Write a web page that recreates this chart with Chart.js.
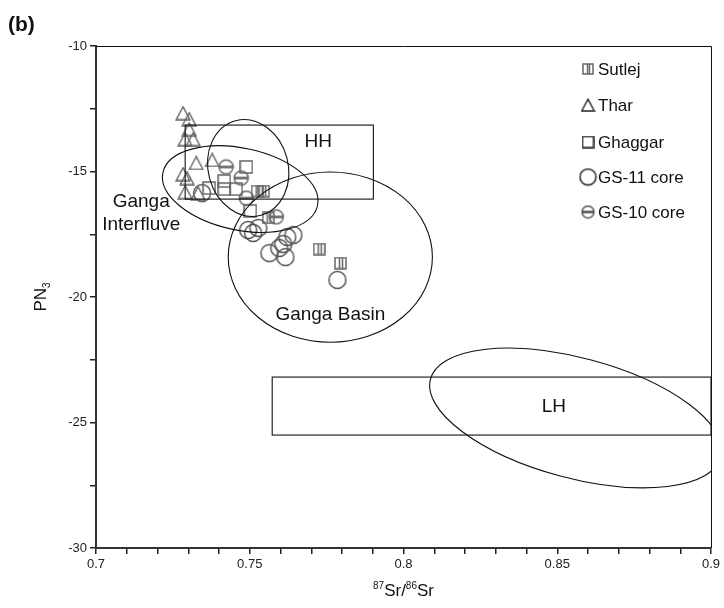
<!DOCTYPE html>
<html lang="en">
<head>
<meta charset="UTF-8" />
<title>PN3 vs 87Sr/86Sr</title>
<script src="https://cdn.jsdelivr.net/npm/chart.js"></script>
<style>
  html, body { margin: 0; padding: 0; background: #fff; }
  #wrap { position: relative; width: 724px; height: 608px; }
</style>
</head>
<body>
<div id="wrap"><canvas id="chart" width="724" height="608"></canvas></div>
<script>
  // values
  const sutlejX = [0.7524, 0.7545, 0.7560, 0.7726, 0.7795];
  const sutlejY = [-15.78, -15.78, -16.85, -18.09, -18.65];

  const tharX = [0.7283, 0.7303, 0.7303, 0.7290, 0.7316, 0.7326, 0.7378, 0.7283, 0.7296, 0.7290, 0.7332];
  const tharY = [-12.67, -12.91, -13.31, -13.71, -13.71, -14.66, -14.54, -15.10, -15.26, -15.82, -15.86];

  const ghaggarX = [0.7489, 0.7417, 0.7417, 0.7368, 0.7456, 0.7502];
  const ghaggarY = [-14.82, -15.38, -15.70, -15.66, -15.70, -16.57];

  const gs11X = [0.7345, 0.7495, 0.7511, 0.7528, 0.7622, 0.7642, 0.7609, 0.7596, 0.7564, 0.7616, 0.7785];
  const gs11Y = [-15.86, -17.33, -17.45, -17.25, -17.61, -17.53, -17.89, -18.05, -18.25, -18.41, -19.32];

  const gs10X = [0.7423, 0.7472, 0.7489, 0.7586];
  const gs10Y = [-14.82, -15.26, -16.06, -16.81];

  const seriesNames = ['Sutlej', 'Thar', 'Ghaggar', 'GS-11 core', 'GS-10 core'];
  const xTickLabels = [0.7, 0.75, 0.8, 0.85, 0.9];
  const yTickLabels = [-30, -25, -20, -15, -10];

  // fields drawn on the diagram (data coords)
  const rects = [
    { x0: 0.7290, x1: 0.7902, y0: -13.15, y1: -16.10 },   // HH
    { x0: 0.7573, x1: 0.9000, y0: -23.19, y1: -25.50 }    // LH
  ];
  const ellipses = [
    { cx: 0.7469, cy: -15.70, rx: 0.0257, ry: 1.63, rot: 12 },   // Ganga Interfluve
    { cx: 0.7495, cy: -14.86, rx: 0.0130, ry: 1.95, rot: -15 },
    { cx: 0.7762, cy: -18.41, rx: 0.0332, ry: 3.39, rot: 0 },    // Ganga Basin
    { cx: 0.8560, cy: -24.82, rx: 0.0489, ry: 2.39, rot: 15 }    // LH
  ];
  const labels = [
    { text: 'Ganga', x: 0.7147, y: -16.22 },
    { text: 'Interfluve', x: 0.7147, y: -17.13 },
    { text: 'Ganga Basin', x: 0.7762, y: -20.72 },
    { text: 'HH', x: 0.7723, y: -13.82 },
    { text: 'LH', x: 0.8489, y: -24.38 }
  ];

  const FONT = '"Liberation Sans", Arial, sans-serif';
  const GREY = '#666';

  function mark(w, h, draw) {
    const c = document.createElement('canvas');
    c.width = w; c.height = h;
    const g = c.getContext('2d');
    draw(g, w, h);
    return c;
  }
  function sutlejMark(s) {
    return mark(s + 2, s + 2, (g, w, h) => {
      g.strokeStyle = GREY; g.lineWidth = 1.5;
      g.strokeRect(1, 1, w - 2, h - 2);
      g.beginPath();
      g.moveTo(Math.round(w * 0.4) + 0.5, 1); g.lineTo(Math.round(w * 0.4) + 0.5, h - 1);
      g.moveTo(Math.round(w * 0.6) + 0.5, 1); g.lineTo(Math.round(w * 0.6) + 0.5, h - 1);
      g.stroke();
    });
  }
  function triMark(s, col) {
    return mark(s + 3, s + 2, (g, w, h) => {
      g.strokeStyle = col; g.lineWidth = 1.4;
      g.beginPath();
      g.moveTo(w / 2, 1.2); g.lineTo(w - 1.2, h - 1); g.lineTo(1.2, h - 1); g.closePath();
      g.stroke();
    });
  }
  function squareMark(s, col) {
    return mark(s + 2, s + 2, (g, w, h) => {
      g.strokeStyle = col; g.lineWidth = 1.5;
      g.strokeRect(1, 1, w - 2, h - 2);
    });
  }
  function circleMark(r, col) {
    return mark(2 * r + 3, 2 * r + 3, (g, w, h) => {
      g.strokeStyle = col; g.lineWidth = 1.5;
      g.beginPath(); g.arc(w / 2, h / 2, r, 0, Math.PI * 2); g.stroke();
    });
  }
  function bandCircleMark(r, col) {
    return mark(2 * r + 3, 2 * r + 3, (g, w, h) => {
      g.strokeStyle = col; g.lineWidth = 1.5;
      g.beginPath(); g.arc(w / 2, h / 2, r, 0, Math.PI * 2); g.stroke();
      g.fillStyle = col;
      g.fillRect(w / 2 - r, h / 2 - 1.3, 2 * r, 2.6);
    });
  }

  const styles = [sutlejMark(11), triMark(13, GREY), squareMark(12, GREY), circleMark(8.5, '#555'), bandCircleMark(7, GREY)];
  const legendStyles = [sutlejMark(10), triMark(12, '#222'), squareMark(11, '#222'), circleMark(8, '#222'), bandCircleMark(6, '#555')];

  const pairs = (xs, ys) => xs.map((x, i) => ({ x: x, y: ys[i] }));
  const seriesData = [pairs(sutlejX, sutlejY), pairs(tharX, tharY), pairs(ghaggarX, ghaggarY), pairs(gs11X, gs11Y), pairs(gs10X, gs10Y)];

  const overlay = {
    id: 'overlay',
    afterDatasetsDraw(chart) {
      const { ctx, chartArea: a, scales: { x, y } } = chart;
      ctx.save();
      // top / right frame
      ctx.strokeStyle = '#111'; ctx.lineWidth = 1;
      ctx.beginPath();
      ctx.moveTo(a.left, a.top + 0.5); ctx.lineTo(a.right + 0.5, a.top + 0.5); ctx.lineTo(a.right + 0.5, a.bottom);
      ctx.stroke();

      ctx.beginPath(); ctx.rect(a.left, a.top, a.right - a.left + 1, a.bottom - a.top); ctx.clip();
      ctx.strokeStyle = '#111'; ctx.lineWidth = 1.1;
      rects.forEach(r => {
        const px0 = x.getPixelForValue(r.x0), px1 = x.getPixelForValue(r.x1);
        const py0 = y.getPixelForValue(r.y0), py1 = y.getPixelForValue(r.y1);
        ctx.strokeRect(px0, py0, px1 - px0, py1 - py0);
      });
      const kx = x.getPixelForValue(0.8) - x.getPixelForValue(0.7);
      const ky = y.getPixelForValue(-20) - y.getPixelForValue(-10);
      ellipses.forEach(e => {
        ctx.beginPath();
        ctx.ellipse(x.getPixelForValue(e.cx), y.getPixelForValue(e.cy), e.rx * kx / 0.1, e.ry * ky / 10, e.rot * Math.PI / 180, 0, Math.PI * 2);
        ctx.stroke();
      });
      ctx.restore();

      ctx.save();
      ctx.fillStyle = '#111';
      ctx.font = '19px ' + FONT;
      ctx.textAlign = 'center'; ctx.textBaseline = 'middle';
      labels.forEach(l => ctx.fillText(l.text, x.getPixelForValue(l.x), y.getPixelForValue(l.y)));
      ctx.restore();
    },
    afterDraw(chart) {
      const { ctx, chartArea: a } = chart;
      ctx.save();
      // legend
      const rowsY = [69, 105, 142, 177, 212];
      ctx.font = '17px ' + FONT;
      ctx.fillStyle = '#111';
      ctx.textBaseline = 'middle';
      seriesNames.forEach((n, i) => {
        const img = legendStyles[i];
        ctx.drawImage(img, 588 - img.width / 2, rowsY[i] - img.height / 2);
        ctx.fillText(n, 598, rowsY[i] + 1);
      });

      // panel tag
      ctx.font = 'bold 21px ' + FONT;
      ctx.textBaseline = 'alphabetic';
      ctx.fillText('(b)', 8, 31);

      // y title PN3
      ctx.save();
      ctx.translate(40, (a.top + a.bottom) / 2);
      ctx.rotate(-Math.PI / 2);
      ctx.font = '17px ' + FONT;
      const wPN = ctx.measureText('PN').width;
      ctx.font = '10px ' + FONT;
      const w3 = ctx.measureText('3').width;
      let sx = -(wPN + w3) / 2;
      ctx.font = '17px ' + FONT;
      ctx.fillText('PN', sx, 6);
      ctx.font = '10px ' + FONT;
      ctx.fillText('3', sx + wPN, 10);
      ctx.restore();

      // x title 87Sr/86Sr
      const parts = [['87', 10, -7], ['Sr/', 17, 0], ['86', 10, -7], ['Sr', 17, 0]];
      let total = 0;
      parts.forEach(p => { ctx.font = p[1] + 'px ' + FONT; total += ctx.measureText(p[0]).width; });
      let cx = (a.left + a.right) / 2 - total / 2;
      parts.forEach(p => {
        ctx.font = p[1] + 'px ' + FONT;
        ctx.fillText(p[0], cx, 596 + p[2]);
        cx += ctx.measureText(p[0]).width;
      });
      ctx.restore();
    }
  };

  new Chart(document.getElementById('chart'), {
    type: 'scatter',
    data: {
      datasets: seriesNames.map((n, i) => ({
        label: n,
        data: seriesData[i],
        pointStyle: styles[i],
        pointRadius: 6,
        pointHoverRadius: 6
      }))
    },
    options: {
      responsive: false,
      animation: false,
      devicePixelRatio: 1,
      layout: { padding: { left: 0, top: 46, right: 13, bottom: 0 } },
      plugins: { legend: { display: false }, tooltip: { enabled: false } },
      scales: {
        x: {
          type: 'linear', min: 0.7, max: 0.9,
          afterFit: s => { s.height = 60; },
          border: { display: true, color: '#333', width: 2 },
          grid: { drawOnChartArea: false, drawTicks: true, tickLength: 6, color: '#222', lineWidth: 1.5 },
          ticks: {
            stepSize: 0.01, autoSkip: false, maxRotation: 0, padding: 3,
            color: '#222', font: { size: 13, family: FONT },
            callback: v => {
              const hit = xTickLabels.find(t => Math.abs(t - v) < 1e-6);
              return hit === undefined ? '' : String(hit);
            }
          }
        },
        y: {
          type: 'linear', min: -30, max: -10,
          afterFit: s => { s.width = 96; },
          border: { display: true, color: '#333', width: 2 },
          grid: { drawOnChartArea: false, drawTicks: true, tickLength: 6, color: '#222', lineWidth: 1.5 },
          ticks: {
            stepSize: 2.5, autoSkip: false, padding: 3,
            color: '#222', font: { size: 13, family: FONT },
            callback: v => {
              const hit = yTickLabels.find(t => Math.abs(t - v) < 1e-6);
              return hit === undefined ? '' : String(hit);
            }
          }
        }
      }
    },
    plugins: [overlay]
  });
</script>
</body>
</html>
